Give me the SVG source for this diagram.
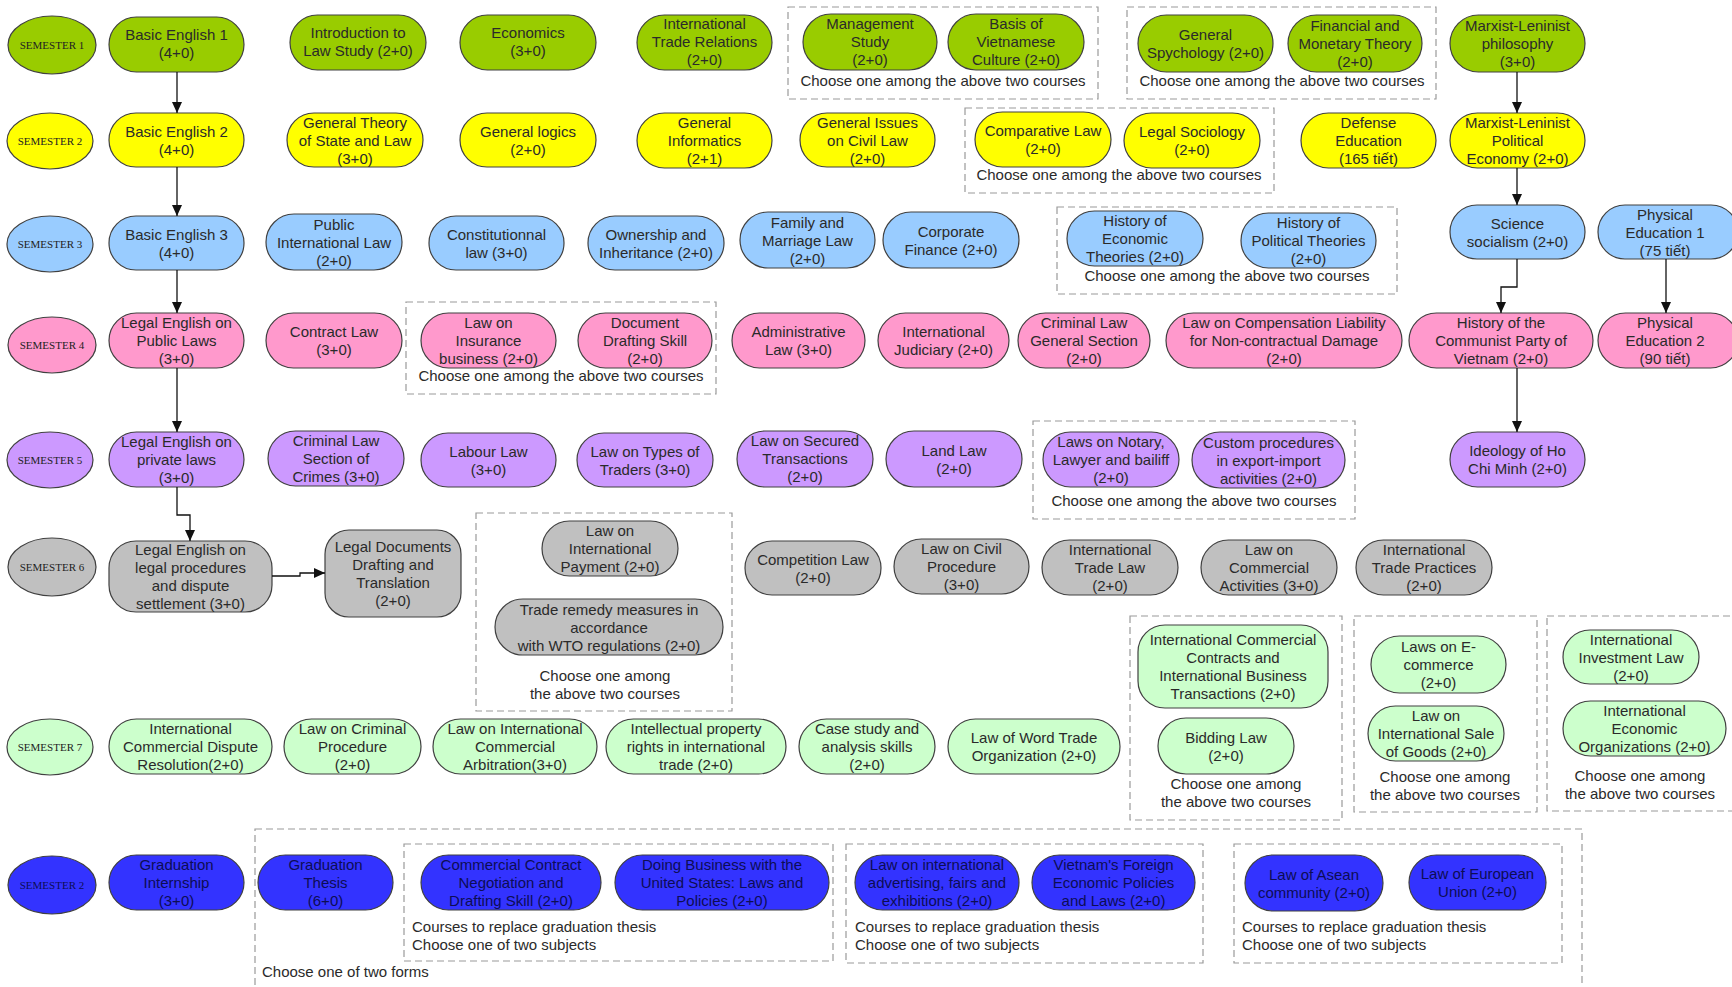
<svg xmlns="http://www.w3.org/2000/svg" width="1732" height="987" viewBox="0 0 1732 987">
<style>
.n rect,.n ellipse{stroke:#404040;stroke-width:1.2}
.c1{fill:#99cc00}.c2{fill:#ffff00}.c3{fill:#99ccff}.c4{fill:#ff99cc}.c5{fill:#cc99ff}.c6{fill:#c0c0c0}.c7{fill:#ccffcc}.c8{fill:#3333ff}
text{font-family:"Liberation Sans",Arial,sans-serif;font-size:15px;fill:#2a2a2a;text-anchor:middle}
.b text{fill:#0d0d55}
text.sem{font-family:"Liberation Serif","Times New Roman",serif;font-size:11px;fill:#222}
.grp{fill:none;stroke:#9a9a9a;stroke-width:1.2;stroke-dasharray:7,4}
text.l{text-anchor:start}
.conn path{fill:none;stroke:#111;stroke-width:1.3}
</style>
<defs>
<marker id="ah" markerWidth="11" markerHeight="11" refX="11" refY="5" orient="auto" markerUnits="userSpaceOnUse"><path d="M0,0 L11,5 L0,10 z" fill="#111"/></marker>
</defs>
<rect width="1732" height="987" fill="#fff"/>

<!-- dashed group boxes -->
<g id="groups">
<rect class="grp" x="788" y="7" width="310" height="92"/>
<text x="943" y="86">Choose one among the above two courses</text>
<rect class="grp" x="1127" y="7" width="309" height="92"/>
<text x="1282" y="86">Choose one among the above two courses</text>
<rect class="grp" x="965" y="108" width="309" height="85"/>
<text x="1119" y="180">Choose one among the above two courses</text>
<rect class="grp" x="1057" y="207" width="340" height="87"/>
<text x="1227" y="281">Choose one among the above two courses</text>
<rect class="grp" x="406" y="302" width="310" height="92"/>
<text x="561" y="381">Choose one among the above two courses</text>
<rect class="grp" x="1033" y="421" width="322" height="98"/>
<text x="1194" y="506">Choose one among the above two courses</text>
<rect class="grp" x="476" y="513" width="256" height="198"/>
<text x="605" y="681">Choose one among</text>
<text x="605" y="699">the above two courses</text>
<rect class="grp" x="1130" y="616" width="212" height="204"/>
<text x="1236" y="789">Choose one among</text>
<text x="1236" y="807">the above two courses</text>
<rect class="grp" x="1354" y="616" width="183" height="196"/>
<text x="1445" y="782">Choose one among</text>
<text x="1445" y="800">the above two courses</text>
<rect class="grp" x="1547" y="616" width="200" height="195"/>
<text x="1640" y="781">Choose one among</text>
<text x="1640" y="799">the above two courses</text>
<rect class="grp" x="255" y="829" width="1327" height="170"/>
<text class="l" x="262" y="977">Choose one of two forms</text>
<rect class="grp" x="404" y="844" width="429" height="117"/>
<text class="l" x="412" y="932">Courses to replace graduation thesis</text>
<text class="l" x="412" y="950">Choose one of two subjects</text>
<rect class="grp" x="846" y="844" width="357" height="119"/>
<text class="l" x="855" y="932">Courses to replace graduation thesis</text>
<text class="l" x="855" y="950">Choose one of two subjects</text>
<rect class="grp" x="1234" y="844" width="328" height="119"/>
<text class="l" x="1242" y="932">Courses to replace graduation thesis</text>
<text class="l" x="1242" y="950">Choose one of two subjects</text>
</g>

<!-- semester labels -->
<g id="sem1" class="n"><ellipse class="c1" cx="52" cy="45" rx="44" ry="29"/><text class="sem" x="52" y="49">SEMESTER 1</text></g>
<g id="sem2" class="n"><ellipse class="c2" cx="50" cy="141" rx="43" ry="28"/><text class="sem" x="50" y="145">SEMESTER 2</text></g>
<g id="sem3" class="n"><ellipse class="c3" cx="50" cy="244" rx="43" ry="28"/><text class="sem" x="50" y="248">SEMESTER 3</text></g>
<g id="sem4" class="n"><ellipse class="c4" cx="52" cy="345" rx="44" ry="28"/><text class="sem" x="52" y="349">SEMESTER 4</text></g>
<g id="sem5" class="n"><ellipse class="c5" cx="50" cy="460" rx="43" ry="28"/><text class="sem" x="50" y="464">SEMESTER 5</text></g>
<g id="sem6" class="n"><ellipse class="c6" cx="52" cy="567" rx="44" ry="29"/><text class="sem" x="52" y="571">SEMESTER 6</text></g>
<g id="sem7" class="n"><ellipse class="c7" cx="50" cy="747" rx="43" ry="28"/><text class="sem" x="50" y="751">SEMESTER 7</text></g>
<g id="sem8" class="n"><ellipse class="c8" cx="52" cy="885" rx="44" ry="29"/><text class="sem" x="52" y="889" style="fill:#0d0d55">SEMESTER 2</text></g>

<!-- Semester 1 -->
<g id="be1" class="n"><rect class="c1" x="109" y="17" width="135" height="55" rx="27.5"/><text x="176.5" y="40">Basic English 1</text><text x="176.5" y="58">(4+0)</text></g>
<g id="intro" class="n"><rect class="c1" x="290" y="15" width="136" height="55" rx="27.5"/><text x="358" y="38">Introduction to</text><text x="358" y="56">Law Study (2+0)</text></g>
<g id="econ" class="n"><rect class="c1" x="460" y="15" width="136" height="55" rx="27.5"/><text x="528" y="38">Economics</text><text x="528" y="56">(3+0)</text></g>
<g id="itr" class="n"><rect class="c1" x="637" y="15" width="135" height="55" rx="27.5"/><text x="704.5" y="29">International</text><text x="704.5" y="47">Trade Relations</text><text x="704.5" y="65">(2+0)</text></g>
<g id="mgmt" class="n"><rect class="c1" x="803" y="14" width="134" height="56" rx="28"/><text x="870" y="29">Management</text><text x="870" y="47">Study</text><text x="870" y="65">(2+0)</text></g>
<g id="bvc" class="n"><rect class="c1" x="948" y="14" width="136" height="56" rx="28"/><text x="1016" y="29">Basis of</text><text x="1016" y="47">Vietnamese</text><text x="1016" y="65">Culture (2+0)</text></g>
<g id="psy" class="n"><rect class="c1" x="1138" y="15" width="135" height="57" rx="28.5"/><text x="1205.5" y="39.5">General</text><text x="1205.5" y="57.5">Spychology (2+0)</text></g>
<g id="fmt" class="n"><rect class="c1" x="1288" y="15" width="134" height="57" rx="28.5"/><text x="1355" y="30.5">Financial and</text><text x="1355" y="48.5">Monetary Theory</text><text x="1355" y="66.5">(2+0)</text></g>
<g id="mlp" class="n"><rect class="c1" x="1450" y="15" width="135" height="57" rx="28.5"/><text x="1517.5" y="30.5">Marxist-Leninist</text><text x="1517.5" y="48.5">philosophy</text><text x="1517.5" y="66.5">(3+0)</text></g>

<!-- Semester 2 -->
<g id="be2" class="n"><rect class="c2" x="109" y="113" width="135" height="54" rx="27"/><text x="176.5" y="136.5">Basic English 2</text><text x="176.5" y="154.5">(4+0)</text></g>
<g id="gtsl" class="n"><rect class="c2" x="287" y="113" width="136" height="54" rx="27"/><text x="355" y="127.5">General Theory</text><text x="355" y="145.5">of State and Law</text><text x="355" y="163.5">(3+0)</text></g>
<g id="glog" class="n"><rect class="c2" x="460" y="113" width="136" height="54" rx="27"/><text x="528" y="136.5">General logics</text><text x="528" y="154.5">(2+0)</text></g>
<g id="ginf" class="n"><rect class="c2" x="637" y="113" width="135" height="55" rx="27.5"/><text x="704.5" y="128">General</text><text x="704.5" y="146">Informatics</text><text x="704.5" y="164">(2+1)</text></g>
<g id="gicl" class="n"><rect class="c2" x="800" y="113" width="135" height="54" rx="27"/><text x="867.5" y="127.5">General Issues</text><text x="867.5" y="145.5">on Civil Law</text><text x="867.5" y="163.5">(2+0)</text></g>
<g id="comp" class="n"><rect class="c2" x="975" y="112" width="136" height="55" rx="27.5"/><text x="1043" y="136">Comparative Law</text><text x="1043" y="154">(2+0)</text></g>
<g id="lsoc" class="n"><rect class="c2" x="1124" y="113" width="136" height="55" rx="27.5"/><text x="1192" y="137">Legal Sociology</text><text x="1192" y="155">(2+0)</text></g>
<g id="def" class="n"><rect class="c2" x="1301" y="113" width="135" height="55" rx="27.5"/><text x="1368.5" y="128">Defense</text><text x="1368.5" y="146">Education</text><text x="1368.5" y="164">(165 tiết)</text></g>
<g id="mlpe" class="n"><rect class="c2" x="1450" y="113" width="135" height="55" rx="27.5"/><text x="1517.5" y="128">Marxist-Leninist</text><text x="1517.5" y="146">Political</text><text x="1517.5" y="164">Economy (2+0)</text></g>

<!-- Semester 3 -->
<g id="be3" class="n"><rect class="c3" x="109" y="216" width="135" height="54" rx="27"/><text x="176.5" y="239.5">Basic English 3</text><text x="176.5" y="257.5">(4+0)</text></g>
<g id="pil" class="n"><rect class="c3" x="266" y="214" width="136" height="56" rx="28"/><text x="334" y="229.5">Public</text><text x="334" y="247.5">International Law</text><text x="334" y="265.5">(2+0)</text></g>
<g id="const" class="n"><rect class="c3" x="429" y="216" width="135" height="54" rx="27"/><text x="496.5" y="239.5">Constitutionnal</text><text x="496.5" y="257.5">law (3+0)</text></g>
<g id="own" class="n"><rect class="c3" x="588" y="216" width="136" height="54" rx="27"/><text x="656" y="239.5">Ownership and</text><text x="656" y="257.5">Inheritance (2+0)</text></g>
<g id="fam" class="n"><rect class="c3" x="740" y="212" width="135" height="56" rx="28"/><text x="807.5" y="227.5">Family and</text><text x="807.5" y="245.5">Marriage Law</text><text x="807.5" y="263.5">(2+0)</text></g>
<g id="corp" class="n"><rect class="c3" x="883" y="212" width="136" height="56" rx="28"/><text x="951" y="236.5">Corporate</text><text x="951" y="254.5">Finance (2+0)</text></g>
<g id="hecon" class="n"><rect class="c3" x="1067" y="211" width="136" height="55" rx="27.5"/><text x="1135" y="226">History of</text><text x="1135" y="244">Economic</text><text x="1135" y="262">Theories (2+0)</text></g>
<g id="hpol" class="n"><rect class="c3" x="1241" y="213" width="135" height="55" rx="27.5"/><text x="1308.5" y="228">History of</text><text x="1308.5" y="246">Political Theories</text><text x="1308.5" y="264">(2+0)</text></g>
<g id="sci" class="n"><rect class="c3" x="1450" y="205" width="135" height="54" rx="27"/><text x="1517.5" y="228.5">Science</text><text x="1517.5" y="246.5">socialism (2+0)</text></g>
<g id="pe1" class="n"><rect class="c3" x="1598" y="205" width="140" height="54" rx="27"/><text x="1665" y="219.5">Physical</text><text x="1665" y="237.5">Education 1</text><text x="1665" y="255.5">(75 tiết)</text></g>

<!-- Semester 4 -->
<g id="lepub" class="n"><rect class="c4" x="109" y="313" width="135" height="55" rx="27.5"/><text x="176.5" y="328">Legal English on</text><text x="176.5" y="346">Public Laws</text><text x="176.5" y="364">(3+0)</text></g>
<g id="contract" class="n"><rect class="c4" x="266" y="313" width="136" height="55" rx="27.5"/><text x="334" y="337">Contract Law</text><text x="334" y="355">(3+0)</text></g>
<g id="ins" class="n"><rect class="c4" x="421" y="313" width="135" height="55" rx="27.5"/><text x="488.5" y="328">Law on</text><text x="488.5" y="346">Insurance</text><text x="488.5" y="364">business (2+0)</text></g>
<g id="doc" class="n"><rect class="c4" x="578" y="313" width="134" height="55" rx="27.5"/><text x="645" y="328">Document</text><text x="645" y="346">Drafting Skill</text><text x="645" y="364">(2+0)</text></g>
<g id="adm" class="n"><rect class="c4" x="732" y="313" width="133" height="55" rx="27.5"/><text x="798.5" y="337">Administrative</text><text x="798.5" y="355">Law (3+0)</text></g>
<g id="ijud" class="n"><rect class="c4" x="878" y="313" width="131" height="55" rx="27.5"/><text x="943.5" y="337">International</text><text x="943.5" y="355">Judiciary (2+0)</text></g>
<g id="crimg" class="n"><rect class="c4" x="1018" y="313" width="132" height="55" rx="27.5"/><text x="1084" y="328">Criminal Law</text><text x="1084" y="346">General Section</text><text x="1084" y="364">(2+0)</text></g>
<g id="compl" class="n"><rect class="c4" x="1166" y="313" width="236" height="55" rx="27.5"/><text x="1284" y="328">Law on Compensation Liability</text><text x="1284" y="346">for Non-contractual Damage</text><text x="1284" y="364">(2+0)</text></g>
<g id="hcp" class="n"><rect class="c4" x="1409" y="313" width="184" height="55" rx="27.5"/><text x="1501" y="328">History of the</text><text x="1501" y="346">Communist Party of</text><text x="1501" y="364">Vietnam (2+0)</text></g>
<g id="pe2" class="n"><rect class="c4" x="1598" y="313" width="140" height="55" rx="27.5"/><text x="1665" y="328">Physical</text><text x="1665" y="346">Education 2</text><text x="1665" y="364">(90 tiết)</text></g>

<!-- Semester 5 -->
<g id="lepriv" class="n"><rect class="c5" x="109" y="432" width="135" height="55" rx="27.5"/><text x="176.5" y="447">Legal English on</text><text x="176.5" y="465">private laws</text><text x="176.5" y="483">(3+0)</text></g>
<g id="crims" class="n"><rect class="c5" x="268" y="431" width="136" height="55" rx="27.5"/><text x="336" y="446">Criminal Law</text><text x="336" y="464">Section of</text><text x="336" y="482">Crimes (3+0)</text></g>
<g id="labour" class="n"><rect class="c5" x="421" y="433" width="135" height="54" rx="27"/><text x="488.5" y="456.5">Labour Law</text><text x="488.5" y="474.5">(3+0)</text></g>
<g id="trad" class="n"><rect class="c5" x="577" y="433" width="136" height="54" rx="27"/><text x="645" y="456.5">Law on Types of</text><text x="645" y="474.5">Traders (3+0)</text></g>
<g id="sec" class="n"><rect class="c5" x="737" y="431" width="136" height="56" rx="28"/><text x="805" y="446">Law on Secured</text><text x="805" y="464">Transactions</text><text x="805" y="482">(2+0)</text></g>
<g id="land" class="n"><rect class="c5" x="886" y="431" width="136" height="56" rx="28"/><text x="954" y="455.5">Land Law</text><text x="954" y="473.5">(2+0)</text></g>
<g id="notary" class="n"><rect class="c5" x="1043" y="432" width="136" height="55" rx="27.5"/><text x="1111" y="447">Laws on Notary,</text><text x="1111" y="465">Lawyer and bailiff</text><text x="1111" y="483">(2+0)</text></g>
<g id="custom" class="n"><rect class="c5" x="1192" y="432" width="153" height="56" rx="28"/><text x="1268.5" y="447.5">Custom procedures</text><text x="1268.5" y="465.5">in export-import</text><text x="1268.5" y="483.5">activities (2+0)</text></g>
<g id="hcm" class="n"><rect class="c5" x="1450" y="432" width="135" height="55" rx="27.5"/><text x="1517.5" y="456">Ideology of Ho</text><text x="1517.5" y="474">Chi Minh (2+0)</text></g>

<!-- Semester 6 -->
<g id="leproc" class="n"><rect class="c6" x="109" y="541" width="163" height="71" rx="27"/><text x="190.5" y="555">Legal English on</text><text x="190.5" y="573">legal procedures</text><text x="190.5" y="591">and dispute</text><text x="190.5" y="609">settlement (3+0)</text></g>
<g id="ldoc" class="n"><rect class="c6" x="325" y="530" width="136" height="87" rx="24"/><text x="393" y="552">Legal Documents</text><text x="393" y="570">Drafting and</text><text x="393" y="588">Translation</text><text x="393" y="606">(2+0)</text></g>
<g id="ipay" class="n"><rect class="c6" x="542" y="521" width="136" height="55" rx="27.5"/><text x="610" y="536">Law on</text><text x="610" y="554">International</text><text x="610" y="572">Payment (2+0)</text></g>
<g id="trem" class="n"><rect class="c6" x="495" y="599" width="228" height="56" rx="28"/><text x="609" y="614.5">Trade remedy measures in</text><text x="609" y="632.5">accordance</text><text x="609" y="650.5">with WTO regulations (2+0)</text></g>
<g id="compet" class="n"><rect class="c6" x="745" y="541" width="136" height="54" rx="27"/><text x="813" y="564.5">Competition Law</text><text x="813" y="582.5">(2+0)</text></g>
<g id="civp" class="n"><rect class="c6" x="894" y="539" width="135" height="55" rx="27.5"/><text x="961.5" y="554">Law on Civil</text><text x="961.5" y="572">Procedure</text><text x="961.5" y="590">(3+0)</text></g>
<g id="itl" class="n"><rect class="c6" x="1042" y="540" width="136" height="55" rx="27.5"/><text x="1110" y="555">International</text><text x="1110" y="573">Trade Law</text><text x="1110" y="591">(2+0)</text></g>
<g id="lca" class="n"><rect class="c6" x="1201" y="540" width="136" height="55" rx="27.5"/><text x="1269" y="555">Law on</text><text x="1269" y="573">Commercial</text><text x="1269" y="591">Activities (3+0)</text></g>
<g id="itp" class="n"><rect class="c6" x="1356" y="540" width="136" height="55" rx="27.5"/><text x="1424" y="555">International</text><text x="1424" y="573">Trade Practices</text><text x="1424" y="591">(2+0)</text></g>

<!-- Semester 7 -->
<g id="icdr" class="n"><rect class="c7" x="109" y="719" width="163" height="55" rx="27.5"/><text x="190.5" y="734">International</text><text x="190.5" y="752">Commercial Dispute</text><text x="190.5" y="770">Resolution(2+0)</text></g>
<g id="lcp" class="n"><rect class="c7" x="284" y="719" width="137" height="55" rx="27.5"/><text x="352.5" y="734">Law on Criminal</text><text x="352.5" y="752">Procedure</text><text x="352.5" y="770">(2+0)</text></g>
<g id="lica" class="n"><rect class="c7" x="433" y="719" width="164" height="55" rx="27.5"/><text x="515" y="734">Law on International</text><text x="515" y="752">Commercial</text><text x="515" y="770">Arbitration(3+0)</text></g>
<g id="ipr" class="n"><rect class="c7" x="606" y="719" width="180" height="55" rx="27.5"/><text x="696" y="734">Intellectual property</text><text x="696" y="752">rights in international</text><text x="696" y="770">trade (2+0)</text></g>
<g id="case" class="n"><rect class="c7" x="799" y="719" width="136" height="55" rx="27.5"/><text x="867" y="734">Case study and</text><text x="867" y="752">analysis skills</text><text x="867" y="770">(2+0)</text></g>
<g id="wto" class="n"><rect class="c7" x="948" y="719" width="172" height="55" rx="27.5"/><text x="1034" y="743">Law of Word Trade</text><text x="1034" y="761">Organization (2+0)</text></g>
<g id="iccibt" class="n"><rect class="c7" x="1138" y="625" width="190" height="83" rx="27"/><text x="1233" y="645">International Commercial</text><text x="1233" y="663">Contracts and</text><text x="1233" y="681">International Business</text><text x="1233" y="699">Transactions (2+0)</text></g>
<g id="bid" class="n"><rect class="c7" x="1158" y="718" width="136" height="56" rx="28"/><text x="1226" y="742.5">Bidding Law</text><text x="1226" y="760.5">(2+0)</text></g>
<g id="ecom" class="n"><rect class="c7" x="1371" y="636" width="135" height="57" rx="28.5"/><text x="1438.5" y="652">Laws on E-</text><text x="1438.5" y="670">commerce</text><text x="1438.5" y="688">(2+0)</text></g>
<g id="sale" class="n"><rect class="c7" x="1368" y="706" width="136" height="55" rx="27.5"/><text x="1436" y="721">Law on</text><text x="1436" y="739">International Sale</text><text x="1436" y="757">of Goods (2+0)</text></g>
<g id="inv" class="n"><rect class="c7" x="1563" y="630" width="136" height="54" rx="27"/><text x="1631" y="644.5">International</text><text x="1631" y="662.5">Investment Law</text><text x="1631" y="680.5">(2+0)</text></g>
<g id="ieo" class="n"><rect class="c7" x="1563" y="701" width="163" height="55" rx="27.5"/><text x="1644.5" y="716">International</text><text x="1644.5" y="734">Economic</text><text x="1644.5" y="752">Organizations (2+0)</text></g>

<!-- Final semester -->
<g class="b">
<g id="gint" class="n"><rect class="c8" x="109" y="855" width="135" height="55" rx="27.5"/><text x="176.5" y="870">Graduation</text><text x="176.5" y="888">Internship</text><text x="176.5" y="906">(3+0)</text></g>
<g id="gth" class="n"><rect class="c8" x="258" y="855" width="135" height="55" rx="27.5"/><text x="325.5" y="870">Graduation</text><text x="325.5" y="888">Thesis</text><text x="325.5" y="906">(6+0)</text></g>
<g id="ccn" class="n"><rect class="c8" x="421" y="855" width="180" height="55" rx="27.5"/><text x="511" y="870">Commercial Contract</text><text x="511" y="888">Negotiation and</text><text x="511" y="906">Drafting Skill (2+0)</text></g>
<g id="dbus" class="n"><rect class="c8" x="615" y="855" width="214" height="55" rx="27.5"/><text x="722" y="870">Doing Business with the</text><text x="722" y="888">United States: Laws and</text><text x="722" y="906">Policies (2+0)</text></g>
<g id="adv" class="n"><rect class="c8" x="855" y="855" width="164" height="55" rx="27.5"/><text x="937" y="870">Law on international</text><text x="937" y="888">advertising, fairs and</text><text x="937" y="906">exhibitions (2+0)</text></g>
<g id="vfe" class="n"><rect class="c8" x="1032" y="855" width="163" height="55" rx="27.5"/><text x="1113.5" y="870">Vietnam's Foreign</text><text x="1113.5" y="888">Economic Policies</text><text x="1113.5" y="906">and Laws (2+0)</text></g>
<g id="asean" class="n"><rect class="c8" x="1245" y="855" width="138" height="56" rx="28"/><text x="1314" y="879.5">Law of Asean</text><text x="1314" y="897.5">community (2+0)</text></g>
<g id="eu" class="n"><rect class="c8" x="1409" y="855" width="137" height="55" rx="27.5"/><text x="1477.5" y="879">Law of European</text><text x="1477.5" y="897">Union (2+0)</text></g>
</g>

<!-- connectors -->
<g id="connectors" class="conn">
<path d="M177,72 V113" marker-end="url(#ah)"/>
<path d="M177,167 V216" marker-end="url(#ah)"/>
<path d="M177,270 V313" marker-end="url(#ah)"/>
<path d="M177,368 V432" marker-end="url(#ah)"/>
<path d="M177,487 V515 H190 V541" marker-end="url(#ah)"/>
<path d="M272,576 H300 V573 H325" marker-end="url(#ah)"/>
<path d="M1517,72 V113" marker-end="url(#ah)"/>
<path d="M1517,168 V205" marker-end="url(#ah)"/>
<path d="M1517,259 V287 H1501 V313" marker-end="url(#ah)"/>
<path d="M1666,259 V313" marker-end="url(#ah)"/>
<path d="M1517,368 V432" marker-end="url(#ah)"/>
</g>
</svg>
